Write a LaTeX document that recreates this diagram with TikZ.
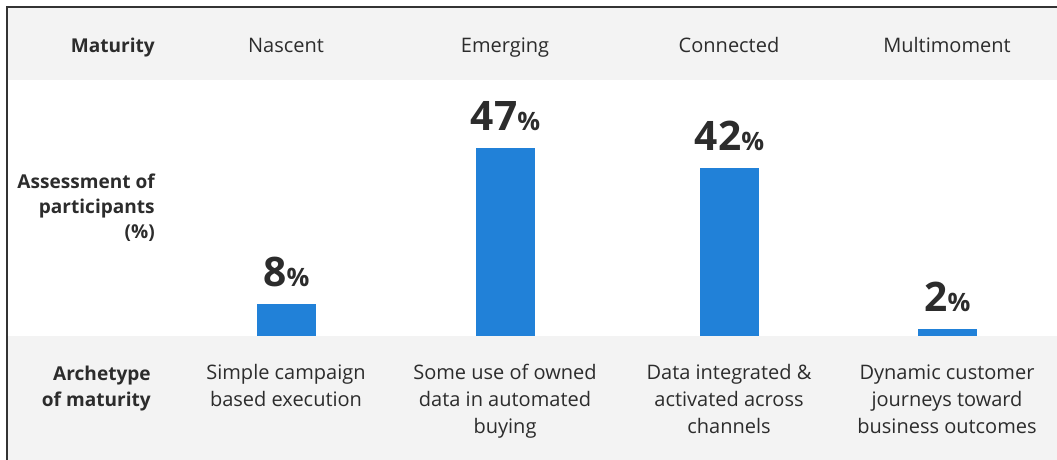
\documentclass[tikz,border=0pt]{standalone}
\usepackage{fontspec}
\setmainfont{Open Sans}
\definecolor{band}{HTML}{F3F3F3}
\definecolor{barblue}{HTML}{2181D8}
\definecolor{ink}{HTML}{2C2C2C}
\definecolor{frame}{HTML}{333333}
\begin{document}
\begin{tikzpicture}[x=0.75pt,y=-0.75pt,
  txt/.style={font=\fontsize{15}{20.25}\selectfont, text=ink, inner sep=0pt, align=center, anchor=base},
  rowlab/.style={font=\fontsize{14.3}{18.75}\selectfont\bfseries, text=ink, inner sep=0pt, align=right, anchor=base east},
  bar/.style={fill=barblue, draw=none, inner sep=0pt, minimum width=44.25pt, anchor=south},
  pct/.style={text=ink, inner sep=0pt, anchor=base, yshift=12.5pt},
  bandfill/.style={fill=band, draw=none}]
\useasboundingbox (0,0) rectangle (1057,460);
% bands
\path[bandfill] (7,7) rectangle (1057,80);
\path[bandfill] (7,336) rectangle (1057,460);
% frame
\draw[frame, line width=1.5pt] (7,460) -- (7,7) -- (1057,7);
% header row
\node[rowlab] (hmat) at (155,53) {Maturity};
\node[txt] (h1) at (286,53) {Nascent};
\node[txt] (h2) at (505,53) {Emerging};
\node[txt] (h3) at (729,53) {Connected};
\node[txt] (h4) at (947,53) {Multimoment};
% row labels (base = last line)
\node[rowlab] (hass) at (155,238) {Assessment of\\participants\\(\%)};
\node[rowlab, font=\fontsize{14.3}{19}\selectfont\bfseries] (harc) at (151,406) {Archetype\\of maturity};
% bars
\node[bar, minimum height=24pt] (b1) at (286.5,336) {};
\node[bar, minimum height=141pt] (b2) at (505.5,336) {};
\node[bar, minimum height=126pt] (b3) at (729.5,336) {};
\node[bar, minimum height=5.25pt] (b4) at (947.5,336) {};
% percentages
\newcommand{\pctlab}[1]{{\fontsize{30.5}{30}\selectfont\bfseries #1}{\fontsize{19}{20}\selectfont\bfseries\%}}
\node[pct] (p1) at (b1.north) {\pctlab{8}};
\node[pct] (p2) at (b2.north) {\pctlab{47}};
\node[pct] (p3) at (b3.north) {\pctlab{42}};
\node[pct] (p4) at (b4.north) {\pctlab{2}};
% archetypes (base = last line)
\node[txt] (a1) at (286,406) {Simple campaign\\based execution};
\node[txt] (a2) at (505,433) {Some use of owned\\data in automated\\buying};
\node[txt] (a3) at (729,433) {Data integrated \&\\activated across\\channels};
\node[txt] (a4) at (947,433) {Dynamic customer\\journeys toward\\business outcomes};
\end{tikzpicture}
\end{document}
